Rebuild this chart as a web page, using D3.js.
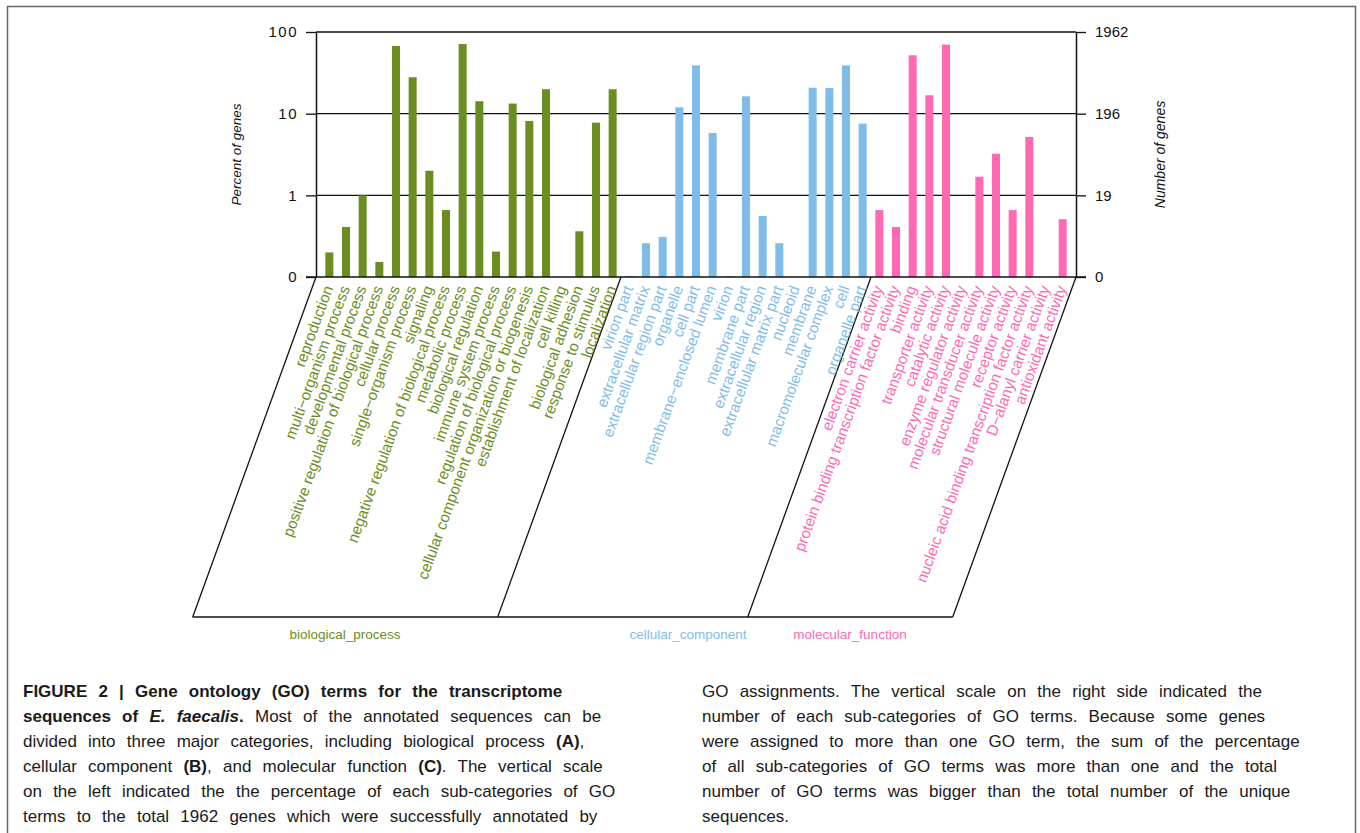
<!DOCTYPE html>
<html>
<head>
<meta charset="utf-8">
<script src="https://cdnjs.cloudflare.com/ajax/libs/d3/7.8.5/d3.min.js"></script>
<style>
  body { margin: 0; background: #fff; }
  svg { display: block; font-family: "Liberation Sans", Arial, Helvetica, sans-serif; }
</style>
</head>
<body>
<div id="chart"></div>
<script>
// GO categories (percent of 1962 annotated genes)
var bioTerms = ["reproduction", "multi\u2212organism process", "developmental process",
  "positive regulation of biological process", "cellular process", "single\u2212organism process",
  "signaling", "negative regulation of biological process", "metabolic process",
  "biological regulation", "immune system process", "regulation of biological process",
  "cellular component organization or biogenesis", "establishment of localization",
  "cell killing", "biological adhesion", "response to stimulus", "localization"];
var bioValues = [0.2, 0.41, 1.0, 0.153, 67.5, 27.9, 2.0, 0.66, 71.3, 14.2, 0.205, 13.3,
  8.15, 19.9, null, 0.363, 7.76, 19.9];

var ccTerms = ["virion part", "extracellular matrix", "extracellular region part", "organelle",
  "cell part", "membrane\u2212enclosed lumen", "virion", "membrane part", "extracellular region",
  "extracellular matrix part", "nucleoid", "membrane", "macromolecular complex", "cell",
  "organelle part"];
var ccValues = [0.103, 0.259, 0.31, 11.97, 39, 5.8, 0.103, 16.3, 0.56, 0.259, null, 20.8,
  20.6, 39, 7.55];

var mfTerms = ["electron carrier activity", "protein binding transcription factor activity",
  "binding", "transporter activity", "catalytic activity", "enzyme regulator activity",
  "molecular transducer activity", "structural molecule activity", "receptor activity",
  "nucleic acid binding transcription factor activity", "D\u2212alanyl carrier activity",
  "antioxidant activity"];
var mfValues = [0.66, 0.41, 51.9, 16.8, 70, null, 1.69, 3.24, 0.66, 5.19, null, 0.51];

var groupNames = ["biological_process", "cellular_component", "molecular_function"];
var groupColors = ["#6b8e23", "#7fbde9", "#ff69b4"];

var yTicks = [0.1, 1, 10, 100];
var leftTickLabels = ["0", "1", "10", "100"];
var rightTickLabels = ["0", "19", "196", "1962"];

// build rows
var groups = [
  {name: groupNames[0], color: groupColors[0], terms: bioTerms, values: bioValues},
  {name: groupNames[1], color: groupColors[1], terms: ccTerms, values: ccValues},
  {name: groupNames[2], color: groupColors[2], terms: mfTerms, values: mfValues}
];
var rows = [];
groups.forEach(function(g, gi) {
  g.terms.forEach(function(t, i) {
    rows.push({term: t, value: g.values[i], group: gi, color: g.color});
  });
});

var W = 1360, H = 833;
var plotLeft = 316, plotRight = 1076, plotTop = 32, plotBottom = 277;
var slantBottom = 617;
var slope = 123.3 / 340; // horizontal shift per px down

var svg = d3.select("#chart").append("svg")
  .attr("width", W).attr("height", H);

// outer frame
svg.append("rect")
  .attr("x", 7.5).attr("y", 6.5)
  .attr("width", 1348).attr("height", 900)
  .attr("fill", "none").attr("stroke", "#666").attr("stroke-width", 1.5);

var x = d3.scaleBand()
  .domain(rows.map(function(d, i) { return i; }))
  .range([plotLeft, plotRight])
  .paddingInner(0.52)
  .paddingOuter(0.56);

var y = d3.scaleLog().domain([0.1, 100]).range([plotBottom, plotTop]);

// gridlines
svg.append("g").selectAll("line")
  .data(yTicks.slice(1))
  .enter().append("line")
  .attr("x1", plotLeft).attr("x2", plotRight)
  .attr("y1", function(d) { return y(d); })
  .attr("y2", function(d) { return y(d); })
  .attr("stroke", "#111").attr("stroke-width", 1.3);

// bars
svg.append("g").selectAll("rect")
  .data(rows.filter(function(d) { return d.value != null; }))
  .enter().append("rect")
  .attr("x", function(d) { return x(rows.indexOf(d)); })
  .attr("width", x.bandwidth())
  .attr("y", function(d) { return y(d.value); })
  .attr("height", function(d) { return plotBottom - y(d.value); })
  .attr("fill", function(d) { return d.color; });

// axes
var yLeft = d3.axisLeft(y).tickValues(yTicks).tickSize(10).tickSizeOuter(0).tickPadding(8)
  .tickFormat(function(d, i) { return leftTickLabels[i]; });
var yRight = d3.axisRight(y).tickValues(yTicks).tickSize(10).tickSizeOuter(0).tickPadding(9)
  .tickFormat(function(d, i) { return rightTickLabels[i]; });

var gl = svg.append("g").attr("transform", "translate(" + plotLeft + ",0)").call(yLeft);
var gr = svg.append("g").attr("transform", "translate(" + plotRight + ",0)").call(yRight);
[gl, gr].forEach(function(g) {
  g.select(".domain").attr("stroke", "#111").attr("stroke-width", 1.5);
  g.selectAll(".tick line").attr("stroke", "#111").attr("stroke-width", 1.3);
  g.selectAll(".tick text").attr("font-size", 15).attr("fill", "#111")
    .attr("font-family", "'Liberation Sans', Arial, sans-serif");
});
gl.selectAll(".tick text").attr("letter-spacing", 1.5);

// baseline at 0
svg.append("line")
  .attr("x1", plotLeft - 10).attr("x2", plotRight + 10)
  .attr("y1", plotBottom).attr("y2", plotBottom)
  .attr("stroke", "#111").attr("stroke-width", 1.3);

// axis titles
svg.append("text")
  .attr("transform", "translate(236," + ((plotTop + plotBottom) / 2) + ") rotate(-90)")
  .attr("text-anchor", "middle").attr("dominant-baseline", "central")
  .attr("font-size", 13.5).attr("font-style", "italic").attr("fill", "#111")
  .text("Percent of genes");
svg.append("text")
  .attr("transform", "translate(1160," + ((plotTop + plotBottom) / 2) + ") rotate(-90)")
  .attr("text-anchor", "middle").attr("dominant-baseline", "central")
  .attr("font-size", 14).attr("font-style", "italic").attr("fill", "#111")
  .text("Number of genes");

// slanted group boxes
var step = x.step();
var bounds = [plotLeft];
var count = 0;
groups.forEach(function(g, gi) {
  count += g.terms.length;
  if (gi < groups.length - 1) {
    bounds.push(x(count - 1) + x.bandwidth() + (step - x.bandwidth()) / 2);
  }
});
bounds.push(plotRight);
var drop = slantBottom - plotBottom;

svg.append("g").selectAll("line")
  .data(bounds)
  .enter().append("line")
  .attr("x1", function(d) { return d; }).attr("y1", plotBottom)
  .attr("x2", function(d) { return d - drop * slope; }).attr("y2", slantBottom)
  .attr("stroke", "#111").attr("stroke-width", 1.3);
svg.append("line")
  .attr("x1", plotLeft - drop * slope).attr("x2", plotRight - drop * slope)
  .attr("y1", slantBottom).attr("y2", slantBottom)
  .attr("stroke", "#111").attr("stroke-width", 1.3);

// category labels
svg.append("g").selectAll("text")
  .data(rows)
  .enter().append("text")
  .attr("transform", function(d, i) {
    return "translate(" + (x(i) + x.bandwidth() / 2 + 4) + "," + (plotBottom + 11) + ") rotate(-70)";
  })
  .attr("text-anchor", "end")
  .attr("font-size", 15.3)
  .attr("fill", function(d) { return d.color; })
  .text(function(d) { return d.term; });

// group names
var groupLabelX = [345, 688, 850];
svg.append("g").selectAll("text")
  .data(groups)
  .enter().append("text")
  .attr("x", function(d, i) { return groupLabelX[i]; })
  .attr("y", 634)
  .attr("text-anchor", "middle").attr("dominant-baseline", "central")
  .attr("font-size", 13.5)
  .attr("fill", function(d) { return d.color; })
  .text(function(d) { return d.name; });

// caption
var captionLeft = [
  [["FIGURE 2 | Gene ontology (GO) terms for the transcriptome", "b"]],
  [["sequences of ", "b"], ["E. faecalis", "bi"], [".", "b"], [" Most of the annotated sequences can be", ""]],
  [["divided into three major categories, including biological process ", ""], ["(A)", "b"], [",", ""]],
  [["cellular component ", ""], ["(B)", "b"], [", and molecular function ", ""], ["(C)", "b"], [". The vertical scale", ""]],
  [["on the left indicated the the percentage of each sub-categories of GO", ""]],
  [["terms to the total 1962 genes which were successfully annotated by", ""]]
];
var captionRight = [
  "GO assignments. The vertical scale on the right side indicated the",
  "number of each sub-categories of GO terms. Because some genes",
  "were assigned to more than one GO term, the sum of the percentage",
  "of all sub-categories of GO terms was more than one and the total",
  "number of GO terms was bigger than the total number of the unique",
  "sequences."
];

var cap = svg.append("g")
  .attr("font-size", 17).attr("fill", "#1a1a1a").attr("word-spacing", 6.5);
captionLeft.forEach(function(line, i) {
  var t = cap.append("text").attr("x", 23).attr("y", 697 + i * 25);
  line.forEach(function(seg) {
    t.append("tspan")
      .attr("font-weight", seg[1].indexOf("b") >= 0 ? "bold" : "normal")
      .attr("font-style", seg[1].indexOf("i") >= 0 ? "italic" : "normal")
      .text(seg[0]);
  });
});
captionRight.forEach(function(line, i) {
  cap.append("text").attr("x", 702).attr("y", 697 + i * 25).text(line);
});
</script>
</body>
</html>
